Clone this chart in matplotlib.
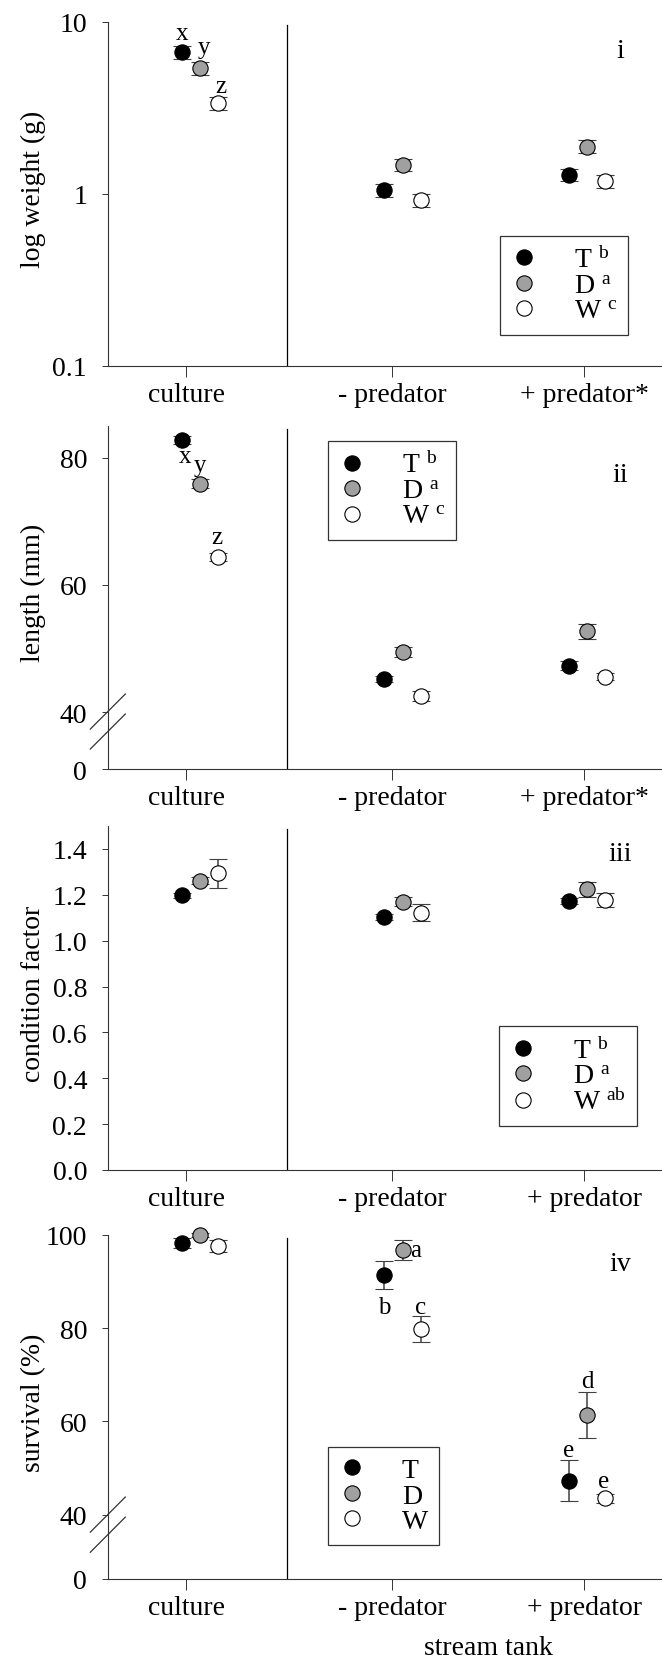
import numpy as np
import matplotlib
matplotlib.use("Agg")
import matplotlib.pyplot as plt
from matplotlib.lines import Line2D

plt.rcParams.update({"font.family": "Liberation Serif", "mathtext.fontset": "custom",
                     "mathtext.rm": "Liberation Serif", "mathtext.it": "Liberation Serif:italic",
                     "font.size": 20})

# ---- data ----
groups_top = ["culture", "- predator", "+ predator*"]
groups_bottom = ["culture", "- predator", "+ predator"]
series = ["T", "D", "W"]

weight_T = [6.63, 1.05, 1.29]
weight_D = [5.35, 1.47, 1.88]
weight_W = [3.35, 0.92, 1.18]
weight_err_T = [0.55, 0.09, 0.11]
weight_err_D = [0.45, 0.12, 0.16]
weight_err_W = [0.28, 0.08, 0.10]

length_T = [82.8, 45.2, 47.3]
length_D = [75.9, 49.5, 52.7]
length_W = [64.4, 42.5, 45.6]
length_err_T = [0.6, 0.5, 0.7]
length_err_D = [0.7, 0.8, 1.2]
length_err_W = [0.6, 0.8, 0.5]

cond_T = [1.198, 1.103, 1.172]
cond_D = [1.261, 1.169, 1.224]
cond_W = [1.293, 1.122, 1.179]
cond_err_T = [0.012, 0.015, 0.012]
cond_err_D = [0.015, 0.020, 0.034]
cond_err_W = [0.064, 0.038, 0.031]

surv_T = [98.3, 91.3, 47.3]
surv_D = [100.0, 96.8, 61.4]
surv_W = [97.6, 79.8, 43.5]
surv_err_T = [1.0, 3.0, 4.4]
surv_err_D = [0.5, 2.1, 5.0]
surv_err_W = [1.3, 2.75, 1.0]

legend_i = ["b", "a", "c"]
legend_ii = ["b", "a", "c"]
legend_iii = ["b", "a", "ab"]
legend_iv = ["", "", ""]

# letters: (series index, group index, text, dx, dy in points)
letters_i = [(0, 0, "x", 0, 13.7), (1, 0, "y", 2.9, 15.5), (2, 0, "z", 2, 12.5)]
letters_ii = [(0, 0, "x", 2, -11.4), (1, 0, "y", 0, 13.2), (2, 0, "z", -1.3, 14)]
letters_iv = [(1, 1, "a", 9.6, 0), (0, 1, "b", 0, -23.0), (2, 1, "c", 0, 15.6),
              (1, 2, "d", 0, 24.5), (0, 2, "e", 0, 22.0), (2, 2, "e", -1.4, 12.7)]

# ---- layout ----
tick_x = np.array([1.0, 2.073, 3.073])
point_x = np.array([0.978, 2.033, 2.993])
series_shift = [0.0, 0.095, 0.19]
divider_x = 1.524
xlim = (0.594, 3.479)
fills = ["black", "#a0a0a0", "white"]
ebar_col = "#404040"

fig = plt.figure(figsize=(6.62, 16.65), dpi=100)
L, W_ = 0.1636, 1 - 0.1636
axes = [fig.add_axes([L, 0.7796, W_, 0.2068]),
        fig.add_axes([L, 0.5375, W_, 0.2062]),
        fig.add_axes([L, 0.2967, W_, 0.2066]),
        fig.add_axes([L, 0.0511, W_, 0.2066])]


def panel(ax, vals, errs, ticklabels, ylabel, tag, tag_y, leg_sup, leg_xy, letters=()):
    for k in range(3):
        ax.errorbar(point_x + series_shift[k], vals[k], yerr=errs[k], fmt="o", ms=11,
                    mfc=fills[k], mec="black", mew=0.8, ecolor=ebar_col, elinewidth=1.1,
                    capsize=6.5, capthick=1.1, zorder=3, clip_on=False)
    for si, gi, txt, dx, dy in letters:
        ax.annotate(txt, (point_x[gi] + series_shift[si], vals[si][gi]), xytext=(dx, dy),
                    textcoords="offset points", ha="center", va="center", fontsize=18)
    ax.axvline(divider_x, ymax=0.99, color="black", lw=0.9)
    ax.set_xlim(*xlim)
    ax.set_xticks(tick_x)
    ax.set_xticklabels(ticklabels)
    for s in ["top", "right"]:
        ax.spines[s].set_visible(False)
    for s in ["left", "bottom"]:
        ax.spines[s].set_linewidth(0.8)
        ax.spines[s].set_color("#333333")
    ax.tick_params(axis="y", direction="out", length=4.3, width=0.7, pad=11, labelsize=20,
                   color="#333333")
    ax.tick_params(axis="x", direction="out", length=8, width=0.7, pad=3.5, labelsize=20,
                   color="#333333")
    ax.set_ylabel(ylabel, fontsize=20)
    ax.yaxis.set_label_coords(-0.113, 0.515)
    ax.text(0.925, tag_y, tag, transform=ax.transAxes, ha="center", va="center", fontsize=20)
    handles = [Line2D([], [], ls="none", marker="o", ms=11, mfc=fills[k], mec="black", mew=0.8)
               for k in range(3)]
    labels = [series[k] + (r" $^{\mathrm{%s}}$" % leg_sup[k] if leg_sup[k] else "")
              for k in range(3)]
    leg = ax.legend(handles, labels, loc="upper left", bbox_to_anchor=leg_xy, borderaxespad=0,
                    fontsize=20, fancybox=False, framealpha=1, edgecolor="#333333",
                    borderpad=0.4, handlelength=0.94, handletextpad=1.31, labelspacing=0.0)
    leg.get_frame().set_linewidth(0.9)


def break_marks(ax, y1, y2):
    for y in (y1, y2):
        ax.plot([-0.0325, 0.0307], [y, y + 0.102], transform=ax.transAxes, color="#333333",
                lw=0.9, clip_on=False)


# i: weight
ax = axes[0]
ax.set_yscale("log")
ax.set_ylim(0.1, 10)
ax.set_yticks([0.1, 1, 10])
ax.set_yticklabels(["0.1", "1", "10"])
ax.yaxis.set_minor_locator(matplotlib.ticker.NullLocator())
panel(ax, [weight_T, weight_D, weight_W], [weight_err_T, weight_err_D, weight_err_W],
      groups_top, "log weight (g)", "i", 0.916, legend_i, (0.7074, 0.3784), letters_i)

# ii: length (broken axis 0 -> 40)
ax = axes[1]
len_zero = 40 - 57 / 6.385
ax.set_ylim(len_zero, 85)
ax.set_yticks([len_zero, 40, 60, 80])
ax.set_yticklabels(["0", "40", "60", "80"])
panel(ax, [length_T, length_D, length_W], [length_err_T, length_err_D, length_err_W],
      groups_top, "length (mm)", "ii", 0.859, legend_ii, (0.397, 0.956), letters_ii)
break_marks(ax, 0.0583, 0.1165)

# iii: condition factor
ax = axes[2]
ax.set_ylim(0, 1.5)
ax.set_yticks(np.arange(0, 1.41, 0.2))
ax.set_yticklabels([f"{v:.1f}" for v in np.arange(0, 1.41, 0.2)])
panel(ax, [cond_T, cond_D, cond_W], [cond_err_T, cond_err_D, cond_err_W],
      groups_bottom, "condition factor", "iii", 0.919, legend_iii, (0.7056, 0.4186))

# iv: survival (broken axis 0 -> 40)
ax = axes[3]
surv_zero = 40 - 64.3 / 4.66
ax.set_ylim(surv_zero, 100)
ax.set_yticks([surv_zero, 40, 60, 80, 100])
ax.set_yticklabels(["0", "40", "60", "80", "100"])
panel(ax, [surv_T, surv_D, surv_W], [surv_err_T, surv_err_D, surv_err_W],
      groups_bottom, "survival (%)", "iv", 0.916, legend_iv, (0.397, 0.3846), letters_iv)
break_marks(ax, 0.0776, 0.136)
ax.text((tick_x[1] + tick_x[2]) / 2, -0.2006, "stream tank", ha="center", va="center",
        fontsize=20, transform=ax.get_xaxis_transform())

fig.savefig("out.png", dpi=100)
plt.close(fig)
